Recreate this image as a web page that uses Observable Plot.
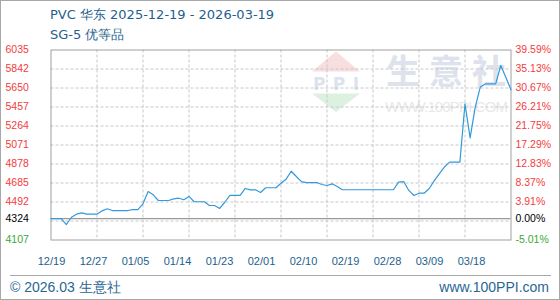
<!DOCTYPE html>
<html>
<head>
<meta charset="utf-8">
<script src="https://cdn.jsdelivr.net/npm/d3@7"></script>
<script src="https://cdn.jsdelivr.net/npm/@observablehq/plot@0.6"></script>
<style>
  html, body { margin: 0; padding: 0; background: #fff; }
  #wrap { position: relative; width: 560px; height: 300px; overflow: hidden; background: #fff; }
  #wrap > * { position: absolute; }
  #border { left: 0; top: 0; width: 560px; height: 300px; box-sizing: border-box; border: 1px solid #a8a8a8; pointer-events: none; }
  #title { left: 50px; top: 5px; font: 13px "DejaVu Sans", sans-serif; line-height: 20px; color: #1f5f8f; white-space: nowrap; }
  #footline { left: 10px; top: 275px; width: 541px; height: 1px; background: #a8a8a8; }
  .foot { top: 279px; font: 14px "Liberation Sans", Arial, sans-serif; line-height: 16px; color: #2a6694; white-space: nowrap; }
  #footL { left: 10px; }
  #footR { right: 11px; }
  #chart, #xlabels { left: 0; top: 0; }
  #xlabels { pointer-events: none; }
</style>
</head>
<body>
<div id="wrap">
  <svg id="wm" width="560" height="300" style="left:0;top:0">
    <polygon points="336,51.5 312,71.5 360,71.5" fill="#f8dede"/>
    <text x="336" y="90" text-anchor="middle" font-family="DejaVu Sans" font-weight="bold" font-size="17" fill="#dde3ee" textLength="46">PPI</text>
    <polygon points="312,93.5 360,93.5 336,112" fill="#dcf1df"/>
    <text x="386" y="84" font-family="Noto Sans CJK SC" font-weight="bold" font-size="34" fill="#dde2ec" letter-spacing="9">生意社</text>
    <text x="385" y="112" font-family="Liberation Sans" font-size="15" fill="#e8e8e8" textLength="123">WWW.100PPI.COM</text>
  </svg>
  <div id="title">PVC 华东 2025-12-19 - 2026-03-19<br>SG-5 优等品</div>
  <div id="footline"></div>
  <div class="foot" id="footL">© 2026.03 生意社</div>
  <div class="foot" id="footR">www.100PPI.com</div>
  <div id="chart"></div>
  <div id="xlabels"></div>
  <div id="border"></div>
</div>
<script>
// Price series (vertices)
const dates = [
  "2025-12-19","2025-12-21","2025-12-22","2025-12-23","2025-12-24","2025-12-25","2025-12-26","2025-12-28",
  "2025-12-29","2025-12-30","2025-12-31","2026-01-03","2026-01-04","2026-01-05","2026-01-06","2026-01-07",
  "2026-01-08","2026-01-09","2026-01-11","2026-01-12","2026-01-13","2026-01-14","2026-01-15","2026-01-16",
  "2026-01-18","2026-01-19","2026-01-20","2026-01-21","2026-01-22","2026-01-23","2026-01-25","2026-01-26",
  "2026-01-27","2026-01-28","2026-01-29","2026-01-30","2026-02-01","2026-02-02","2026-02-03","2026-02-04",
  "2026-02-05","2026-02-06","2026-02-07","2026-02-09","2026-02-10","2026-02-11","2026-02-12","2026-02-13",
  "2026-02-14","2026-02-24","2026-02-25","2026-02-26","2026-02-27","2026-02-28","2026-03-01","2026-03-02",
  "2026-03-03","2026-03-04","2026-03-05","2026-03-06","2026-03-07","2026-03-09","2026-03-10","2026-03-11",
  "2026-03-12","2026-03-13","2026-03-14","2026-03-16","2026-03-17","2026-03-18","2026-03-19"
];
const prices = [
  4324,4324,4264,4338,4369,4383,4369,4369,
  4403,4424,4406,4406,4416,4416,4474,4599,
  4565,4508,4508,4525,4531,4515,4549,4495,
  4495,4457,4457,4427,4490,4559,4559,4630,
  4616,4616,4589,4637,4637,4683,4724,4805,
  4751,4700,4690,4690,4670,4660,4677,4650,
  4617,4617,4695,4700,4610,4559,4582,4582,
  4630,4710,4780,4850,4897,4897,5489,5144,
  5455,5660,5692,5692,5878,5755,5631
];
const basePrice = 4324;
const leftTicks = [6035, 5842, 5650, 5457, 5264, 5071, 4878, 4685, 4492, 4324, 4107];
const rightLabels = ["39.59%","35.13%","30.67%","26.21%","21.75%","17.29%","12.83%","8.37%","3.91%","0.00%","-5.01%"];
const gridValues = [5842.2, 5649.4, 5456.6, 5263.8, 5071, 4878.2, 4685.4, 4492.6, 4299.8];
const gridDates = ["2025-12-28","2026-01-06","2026-01-15","2026-01-24","2026-02-02",
                   "2026-02-11","2026-02-20","2026-03-01","2026-03-10"];
const xTickLabels = ["12/19","12/27","01/05","01/14","01/23","02/01","02/10","02/19","02/28","03/09","03/18"];

const data = dates.map((d, i) => ({date: new Date(d), price: prices[i]}));
const tickColor = v => v > basePrice ? "#f43c3c" : v === basePrice ? "#000000" : "#37a935";

const chart = Plot.plot({
  width: 560,
  height: 300,
  marginLeft: 50.5,
  marginRight: 49.5,
  marginTop: 49.5,
  marginBottom: 60.5,
  x: {type: "utc", domain: [new Date("2025-12-19"), new Date("2026-03-19")], axis: null},
  y: {domain: [4107, 6035], axis: null},
  color: {type: "identity"},
  style: {background: "transparent", overflow: "visible"},
  marks: [
    Plot.ruleY(gridValues, {stroke: "#c6c6c6", strokeDasharray: "3,2", strokeWidth: 1}),
    Plot.ruleX(gridDates.map(d => new Date(d)), {stroke: "#c6c6c6", strokeDasharray: "3,2", strokeWidth: 1}),
    Plot.ruleY([basePrice], {stroke: "#9a9a9a", strokeWidth: 1.2}),
    Plot.frame({stroke: "#a0a0a0"}),
    Plot.line(data, {x: "date", y: "price", stroke: "#3399dd", strokeWidth: 1.2}),
    Plot.text(leftTicks, {
      y: d => d, text: d => String(d), frameAnchor: "left", dx: -45.5, textAnchor: "start",
      fill: d => tickColor(d), fontFamily: "Liberation Sans", fontSize: 10.5
    }),
    Plot.text(leftTicks, {
      y: d => d, text: (d, i) => rightLabels[i], frameAnchor: "right", dx: 4.5, textAnchor: "start",
      fill: d => tickColor(d), fontFamily: "Liberation Sans", fontSize: 10.5
    })
  ]
});
document.getElementById("chart").appendChild(chart);

// Date labels: evenly spaced slots under the chart, as in the reference
const xAxisRow = Plot.plot({
  width: 560,
  height: 300,
  marginTop: 0,
  marginBottom: 0,
  x: {type: "point", domain: xTickLabels, range: [46.2, 475.3], padding: 0, axis: null},
  style: {background: "transparent", overflow: "visible"},
  marks: [
    Plot.text(xTickLabels, {
      x: d => d, text: d => d, frameAnchor: "top", dy: 257,
      fill: "#1d5f8e", fontFamily: "Liberation Sans", fontSize: 11
    })
  ]
});
document.getElementById("xlabels").appendChild(xAxisRow);
</script>
</body>
</html>
